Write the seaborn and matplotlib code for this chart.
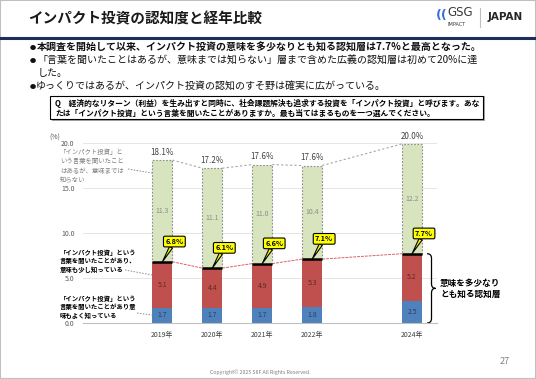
import numpy as np
import pandas as pd
import matplotlib
matplotlib.use("Agg")
import matplotlib.pyplot as plt
import seaborn as sns
from matplotlib.patches import Rectangle, PathPatch
from matplotlib.path import Path
from matplotlib.lines import Line2D

# ---------------- data ----------------
years = [2019, 2020, 2021, 2022, 2024]
year_labels = ["2019年", "2020年", "2021年", "2022年", "2024年"]
well_known = [1.7, 1.7, 1.7, 1.8, 2.5]          # 意味もよく知っている
somewhat_known = [5.1, 4.4, 4.9, 5.3, 5.2]      # 意味も少し知っている
heard_only = [11.3, 11.1, 11.0, 10.4, 12.2]     # 聞いたことはあるが意味までは知らない
aware_labels = ["6.8%", "6.1%", "6.6%", "7.1%", "7.7%"]
total_labels = ["18.1%", "17.2%", "17.6%", "17.6%", "20.0%"]
y_ticks = [0, 5, 10, 15, 20]

BLUE = "#4f81bd"
RED = "#c0504d"
GREEN = "#d7e4bd"

plt.rcParams["font.family"] = ["Noto Sans CJK JP", "DejaVu Sans"]

W, H = 536, 379
fig = plt.figure(figsize=(W / 100, H / 100), dpi=100)
fig.patch.set_facecolor("white")


def fx(x):
    return x / W


def fy(y):
    return 1 - y / H


ax = fig.add_axes([fx(83), fy(323), fx(437) - fx(83), (323 - 143) / H])

df = pd.DataFrame({"year": years, "well": well_known,
                   "some": somewhat_known, "heard": heard_only})
bottom_red = df["well"].values
bottom_green = (df["well"] + df["some"]).values
top_total = bottom_green + df["heard"].values
bw = 0.4

sns.barplot(data=df, x="year", y="well", native_scale=True, width=bw,
            color=BLUE, saturation=1, errorbar=None, linewidth=0, ax=ax, zorder=3)
sns.barplot(data=df, x="year", y="some", native_scale=True, width=bw,
            color=RED, saturation=1, errorbar=None, linewidth=0, ax=ax,
            bottom=bottom_red, zorder=3)
sns.barplot(data=df, x="year", y="heard", native_scale=True, width=bw,
            color=GREEN, saturation=1, errorbar=None, linewidth=0.8,
            edgecolor="#8c8c8c", linestyle=(0, (1.5, 1.5)), ax=ax,
            bottom=bottom_green, zorder=3)

ax.set_xlim(2017.41, 2024.5)
ax.set_ylim(0, 20)
ax.set_xticks(years)
ax.set_xticklabels(year_labels, fontsize=5, color="#404040")
ax.set_yticks(y_ticks)
ax.set_yticklabels([f"{v:.1f}" for v in y_ticks], fontsize=5, color="#595959")
ax.tick_params(axis="both", length=0)
ax.tick_params(axis="y", pad=6)
ax.tick_params(axis="x", pad=5.5)
ax.set_xlabel("")
ax.set_ylabel("")
ax.yaxis.grid(True, color="#e0e0e0", lw=0.6)
ax.set_axisbelow(True)
for s in ["top", "right", "left"]:
    ax.spines[s].set_visible(False)
ax.spines["bottom"].set_color("#bfbfbf")
ax.spines["bottom"].set_linewidth(0.8)
ax.spines["bottom"].set_zorder(6)

# segment labels
for i, x in enumerate(years):
    ax.text(x, bottom_red[i] / 2, f"{well_known[i]:.1f}", ha="center", va="center",
            fontsize=5, color="#2f3d5a", zorder=6)
    ax.text(x, bottom_red[i] + somewhat_known[i] / 2, f"{somewhat_known[i]:.1f}",
            ha="center", va="center", fontsize=5, color="#5a2a28", zorder=6)
    ax.text(x, bottom_green[i] + heard_only[i] / 2, f"{heard_only[i]:.1f}",
            ha="center", va="center", fontsize=5, color="#8c8c8c", zorder=6)
    ax.text(x, top_total[i] + 0.35, total_labels[i], ha="center", va="bottom",
            fontsize=5.8, color="#404040", zorder=6, clip_on=False)

# black top line of "aware" segment
xs = np.array(years, dtype=float)
ax.hlines(bottom_green, xs - bw / 2, xs + bw / 2, color="black", lw=1.8, zorder=5)

# connectors
for i in range(len(years) - 1):
    ax.plot([xs[i] + bw / 2, xs[i + 1] - bw / 2], [bottom_green[i], bottom_green[i + 1]],
            color="#e06060", lw=0.7, ls=(0, (3, 1)), zorder=2)
    ax.plot([xs[i] + bw / 2, xs[i + 1] - bw / 2], [top_total[i], top_total[i + 1]],
            color="#a6a6a6", lw=0.8, ls=(0, (2, 2)), zorder=2)

# callouts
for i, x in enumerate(years):
    ax.annotate(aware_labels[i], xy=(x, bottom_green[i]),
                xytext=(x + 0.24, bottom_green[i] + 2.25),
                ha="center", va="center", fontsize=5.3, fontweight="bold",
                color="black", zorder=8,
                bbox=dict(boxstyle="round,pad=0.25,rounding_size=0.2",
                          fc="#ffff00", ec="black", lw=0.8),
                arrowprops=dict(arrowstyle="wedge,tail_width=0.45,shrink_factor=0.5",
                                fc="#ffff00", ec="black", lw=0.8,
                                shrinkA=0, shrinkB=0))

# bracket for 2024
top = bottom_green[-1]
mid = top / 2
x0, xm, xt = years[-1] + 0.3, years[-1] + 0.39, years[-1] + 0.47
r = 0.5
verts = [(x0, top), (xm, top), (xm, top - r), (xm, mid + r), (xm, mid), (xt, mid),
         (xm, mid), (xm, mid - r), (xm, 0 + r), (xm, 0), (x0, 0)]
codes = [Path.MOVETO, Path.CURVE3, Path.CURVE3, Path.LINETO, Path.CURVE3, Path.CURVE3,
         Path.CURVE3, Path.CURVE3, Path.LINETO, Path.CURVE3, Path.CURVE3]
ax.add_patch(PathPatch(Path(verts, codes), fill=False, ec="black", lw=0.9,
                       clip_on=False, zorder=6))
fig.text(fx(440), fy(289), "意味を多少なり\nとも知る認知層", ha="left", va="center",
         fontsize=6.2, fontweight="bold", color="black", linespacing=1.35)

# left annotations
fig.text(fx(60), fy(166), "「インパクト投資」と\nいう言葉を聞いたこと\nはあるが、意味までは\n知らない",
         ha="left", va="center", fontsize=4.6, color="#7f7f7f", linespacing=1.22)
fig.text(fx(60), fy(261), "「インパクト投資」という\n言葉を聞いたことがあり、\n意味も少し知っている",
         ha="left", va="center", fontsize=4.6, fontweight="bold", color="black",
         linespacing=1.3)
fig.text(fx(60), fy(307), "「インパクト投資」という\n言葉を聞いたことがあり意\n味もよく知っている",
         ha="left", va="center", fontsize=4.6, fontweight="bold", color="black",
         linespacing=1.3)
for (a, b), (c, d) in [((128, 169), (152, 173)), ((125, 270), (152, 275)),
                       ((137, 313), (152, 315))]:
    fig.add_artist(Line2D([fx(a), fx(c)], [fy(b), fy(d)], color="#8c8c8c", lw=0.7,
                          ls=(0, (1.5, 1.5)), transform=fig.transFigure))

fig.text(fx(60), fy(138), "(%)", ha="right", va="center", fontsize=5, color="#595959")

# ---------------- slide decorations ----------------
fig.text(fx(28), fy(18), "インパクト投資の認知度と経年比較", ha="left", va="center",
         fontsize=10.5, fontweight="bold", color="#1a1a1a")
fig.text(fx(436), fy(16), "((", ha="left", va="center", fontsize=9, fontweight="bold",
         color="#3b6fd4", family=["DejaVu Sans"])
fig.text(fx(447), fy(13), "GSG", ha="left", va="center", fontsize=8.5,
         color="#3a3a3a", family=["DejaVu Sans"])
fig.text(fx(448), fy(24), "IMPACT", ha="left", va="center", fontsize=3.6,
         color="#3a3a3a", family=["DejaVu Sans"])
fig.add_artist(Line2D([fx(480), fx(480)], [fy(8), fy(27)], color="#bfbfbf", lw=0.8,
                      transform=fig.transFigure))
fig.text(fx(488), fy(17), "JAPAN", ha="left", va="center", fontsize=7.5,
         fontweight="bold", color="#262626", family=["DejaVu Sans"])
fig.add_artist(Line2D([0, 1], [fy(37.5), fy(37.5)], color="#1f2d5c", lw=2.2,
                      transform=fig.transFigure))

bullet_rows = [
    (48, 37, "本調査を開始して以来、インパクト投資の意味を多少なりとも知る認知層は7.7%と最高となった。", "bold"),
    (61, 37, "「言葉を聞いたことはあるが、意味までは知らない」層まで含めた広義の認知層は初めて20%に達", "normal"),
    (87, 36, "ゆっくりではあるが、インパクト投資の認知のすそ野は確実に広がっている。", "normal"),
]
for yy, xx, txt, wt in bullet_rows:
    fig.text(fx(30), fy(yy), "●", ha="left", va="center", fontsize=4.5,
             color="#111111")
    fig.text(fx(xx), fy(yy), txt, ha="left", va="center", fontsize=7.2,
             fontweight=wt, color="#111111")
fig.text(fx(38), fy(73), "した。", ha="left", va="center", fontsize=7.2, color="#111111")

# question box
fig.add_artist(Rectangle((fx(52), fy(121)), fx(483) - fx(50), (121 - 96) / H,
                         transform=fig.transFigure, fc="#a6a6a6", ec="none"))
fig.add_artist(Rectangle((fx(50), fy(119)), fx(483) - fx(50), (119 - 96) / H,
                         transform=fig.transFigure, fc="white", ec="black", lw=0.8))
fig.text(fx(55), fy(103), "Q　経済的なリターン（利益）を生み出すと同時に、社会課題解決も追求する投資を「インパクト投資」と呼びます。あな",
         ha="left", va="center", fontsize=5.6, fontweight="bold", color="black")
fig.text(fx(55), fy(113), "たは「インパクト投資」という言葉を聞いたことがありますか。最も当てはまるものを一つ選んでください。",
         ha="left", va="center", fontsize=5.6, fontweight="bold", color="black")

fig.text(fx(500), fy(362), "27", ha="left", va="center", fontsize=6.5, color="#7f7f7f")
fig.text(fx(260), fy(372), "Copyright© 2025 SIIF All Rights Reserved.", ha="center",
         va="center", fontsize=3.8, color="#7f7f7f")
fig.add_artist(Rectangle((0, 0), 1, 1, transform=fig.transFigure, fill=False,
                         ec="#bfbfbf", lw=1.5))

fig.savefig("out.png", dpi=100)
